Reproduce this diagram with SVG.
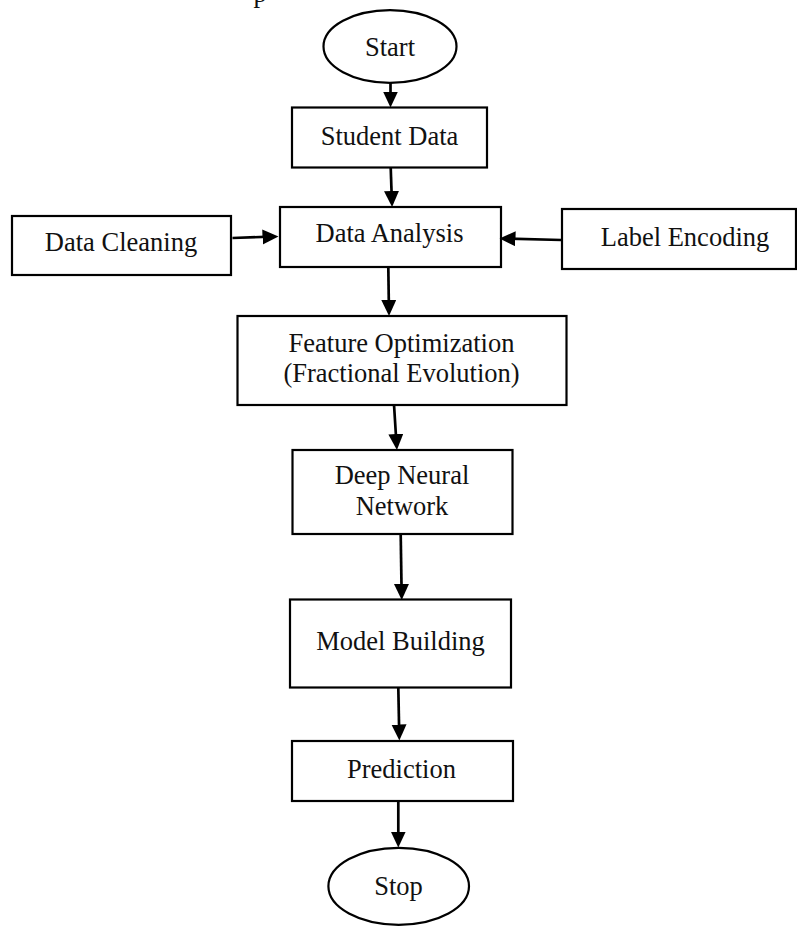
<svg xmlns="http://www.w3.org/2000/svg" width="797" height="926" viewBox="0 0 797 926">
  <style>
    .box { fill: #ffffff; stroke: #000000; stroke-width: 2.2; }
    .lbl { font-family: "Liberation Serif", "Times New Roman", serif; font-size: 26.5px; fill: #111111; text-anchor: middle; }
    .edge { stroke: #000000; stroke-width: 2.7; fill: none; marker-end: url(#head); }
  </style>
  <defs>
    <marker id="head" markerUnits="userSpaceOnUse" markerWidth="18" markerHeight="16" refX="8" refY="7.5" orient="auto">
      <path d="M0,0 L16,7.5 L0,15 Z" fill="#000000"/>
    </marker>
  </defs>
  <rect width="797" height="926" fill="#ffffff"/>

  <!-- fragment of the preceding line of text -->
  <text class="lbl" x="260" y="2">p</text>

  <g id="start">
    <ellipse class="box" cx="390" cy="46.5" rx="66.5" ry="36.3"/>
    <text class="lbl" x="390" y="56">Start</text>
  </g>
  <g id="student-data">
    <rect class="box" x="292" y="107.5" width="195" height="60"/>
    <text class="lbl" x="389.5" y="145">Student Data</text>
  </g>
  <g id="data-cleaning">
    <rect class="box" x="12" y="216" width="219" height="59"/>
    <text class="lbl" x="121" y="251">Data Cleaning</text>
  </g>
  <g id="data-analysis">
    <rect class="box" x="280" y="207" width="221" height="60"/>
    <text class="lbl" x="389.5" y="242">Data Analysis</text>
  </g>
  <g id="label-encoding">
    <rect class="box" x="562" y="209" width="234" height="60"/>
    <text class="lbl" x="685" y="246">Label Encoding</text>
  </g>
  <g id="feature-optimization">
    <rect class="box" x="237.5" y="316" width="329" height="89"/>
    <text class="lbl" x="401.5" y="352">Feature Optimization</text>
    <text class="lbl" x="401.5" y="382">(Fractional Evolution)</text>
  </g>
  <g id="deep-neural-network">
    <rect class="box" x="292.5" y="450" width="220" height="84"/>
    <text class="lbl" x="402" y="484">Deep Neural</text>
    <text class="lbl" x="402" y="515">Network</text>
  </g>
  <g id="model-building">
    <rect class="box" x="290" y="599.5" width="221" height="88"/>
    <text class="lbl" x="400.5" y="650">Model Building</text>
  </g>
  <g id="prediction">
    <rect class="box" x="292" y="741" width="221" height="60"/>
    <text class="lbl" x="401.5" y="778">Prediction</text>
  </g>
  <g id="stop">
    <ellipse class="box" cx="398.7" cy="886.3" rx="70.3" ry="38.5"/>
    <text class="lbl" x="398.5" y="894.5">Stop</text>
  </g>

  <g id="connectors">
    <line class="edge" x1="390.5" y1="83" x2="390.5" y2="99.5"/>
    <line class="edge" x1="390.7" y1="167.5" x2="391.8" y2="199"/>
    <line class="edge" x1="232.5" y1="238" x2="270.5" y2="236.7"/>
    <line class="edge" x1="561.5" y1="240" x2="507.5" y2="238.6"/>
    <line class="edge" x1="388.3" y1="267" x2="388.9" y2="308"/>
    <line class="edge" x1="394" y1="405" x2="396.4" y2="442"/>
    <line class="edge" x1="400.7" y1="534" x2="401.6" y2="592"/>
    <line class="edge" x1="398.3" y1="687.5" x2="399.2" y2="732.5"/>
    <line class="edge" x1="398.3" y1="801" x2="398.3" y2="839.5"/>
  </g>
</svg>
